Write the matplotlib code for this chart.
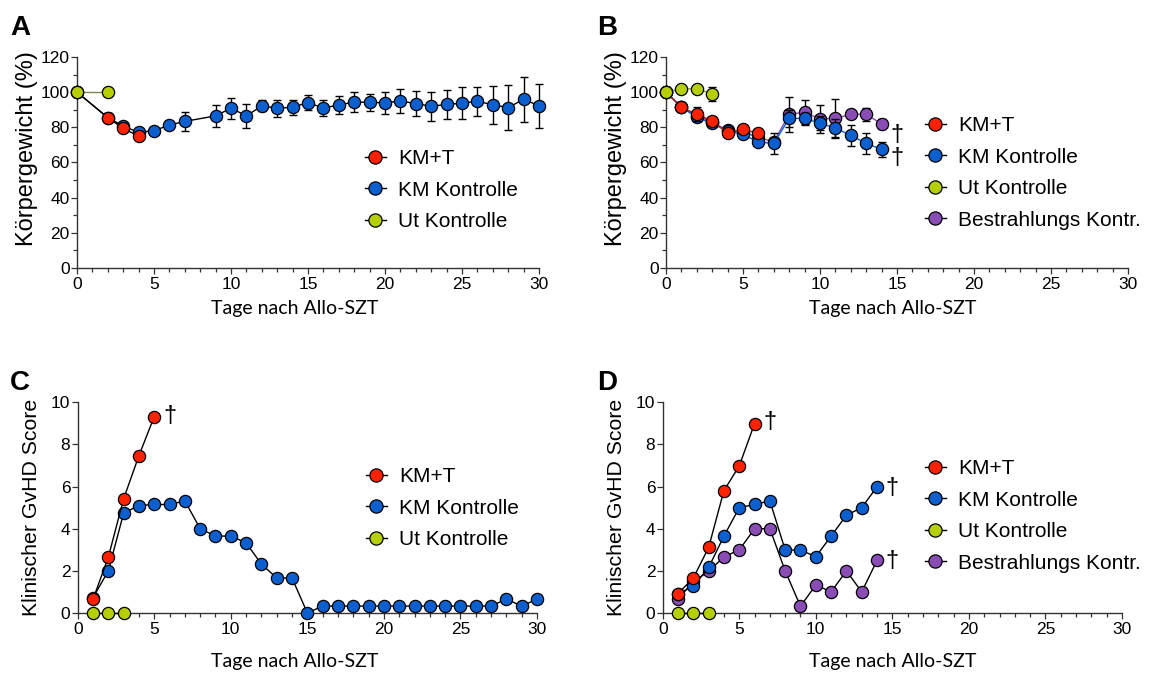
import matplotlib
matplotlib.use("Agg")
import matplotlib.pyplot as plt
from matplotlib.lines import Line2D

# ---------------- data ----------------
labels = ["KM+T", "KM Kontrolle", "Ut Kontrolle", "Bestrahlungs Kontr."]

# Panel A: body weight (%)
a_kmt_days = [0, 2, 3, 4]
a_kmt_vals = [100, 85.5, 79.4, 75.0]
a_kmt_err = [0, 2.5, 1.5, 1.5]

a_km_days = [0, 2, 3, 4, 5, 6, 7, 9, 10, 11, 12, 13, 14, 15, 16, 17, 18, 19,
             20, 21, 22, 23, 24, 25, 26, 27, 28, 29, 30]
a_km_vals = [100, 85.5, 80.8, 77.1, 78.1, 81.3, 83.4, 86.5, 90.9, 86.5, 92.2,
             90.9, 91.4, 94.1, 90.9, 92.8, 94.3, 94.3, 93.9, 95.0, 93.5, 92.0,
             93.0, 93.7, 94.9, 92.8, 91.2, 96.0, 92.2]
a_km_err = [0, 2.7, 1.2, 1.5, 1.0, 2.3, 5.6, 6.3, 5.9, 6.9, 3.1, 4.8, 4.2, 4.2,
            4.4, 5.1, 5.7, 4.8, 6.2, 6.9, 7.0, 8.2, 8.3, 9.1, 8.3, 10.9, 12.6,
            12.8, 12.6]

a_ut_days = [0, 2]
a_ut_vals = [100, 100]

# Panel B: body weight (%)
b_kmt_days = [0, 1, 2, 3, 4, 5, 6]
b_kmt_vals = [100, 91.4, 87.4, 83.6, 76.6, 78.9, 76.6]
b_kmt_err = [0, 1.5, 4.0, 2.0, 1.5, 2.0, 1.5]

b_km_days = list(range(0, 15))
b_km_vals = [100, 91.4, 85.7, 82.3, 77.9, 76.0, 71.6, 70.9, 85.1, 85.1, 82.3,
             79.6, 75.4, 70.9, 67.4]
b_km_err = [0, 1.5, 2.0, 1.5, 1.5, 1.5, 2.0, 6.0, 5.0, 3.0, 4.0, 5.0, 5.8, 6.0,
            4.5]

b_ut_days = [0, 1, 2, 3]
b_ut_vals = [100, 101.9, 101.9, 99.0]
b_ut_err = [0, 1.5, 2.4, 4.0]

b_irr_days = list(range(0, 15))
b_irr_vals = [100, 91.8, 86.5, 83.0, 78.2, 77.5, 74.0, 71.8, 87.4, 88.6, 84.8,
              85.1, 87.4, 87.4, 81.9]
b_irr_err = [0, 1.0, 2.0, 1.5, 1.5, 1.5, 2.0, 2.0, 10.0, 7.0, 8.0, 11.0, 2.0,
             3.8, 3.0]

# Panel C: clinical GvHD score
c_kmt_days = [1, 2, 3, 4, 5]
c_kmt_vals = [0.65, 2.65, 5.42, 7.47, 9.32]

c_km_days = list(range(1, 31))
c_km_vals = [0.73, 2.0, 4.74, 5.1, 5.15, 5.15, 5.32, 4.0, 3.65, 3.65, 3.33,
             2.32, 1.66, 1.66, 0.0, 0.33, 0.33, 0.33, 0.33, 0.33, 0.33, 0.33,
             0.33, 0.33, 0.33, 0.33, 0.33, 0.66, 0.33, 0.66]

c_ut_days = [1, 2, 3]
c_ut_vals = [0, 0, 0]

# Panel D: clinical GvHD score
d_kmt_days = [1, 2, 3, 4, 5, 6]
d_kmt_vals = [0.92, 1.66, 3.11, 5.81, 6.98, 8.99]

d_km_days = list(range(1, 15))
d_km_vals = [0.92, 1.26, 2.16, 3.65, 5.0, 5.15, 5.32, 2.99, 2.99, 2.67, 3.65,
             4.64, 5.0, 5.99]

d_ut_days = [1, 2, 3]
d_ut_vals = [0, 0, 0]

d_irr_days = list(range(1, 15))
d_irr_vals = [0.65, 1.5, 1.97, 2.67, 2.99, 4.0, 4.0, 2.0, 0.32, 1.33, 1.0, 2.0,
              1.0, 2.5]

# ---------------- style ----------------
RED = "#ff2200"
BLUE = "#0b5fcf"
GREEN = "#b5cf00"
PURPLE = "#8a4cb5"
AXC = "#333333"

plt.rcParams["font.family"] = ["Liberation Sans", "DejaVu Sans"]

W, H = 1151, 673
fig = plt.figure(figsize=(W / 100, H / 100), dpi=100)


def px_axes(left, right, top, bottom):
    return fig.add_axes([left / W, 1 - bottom / H, (right - left) / W,
                         (bottom - top) / H])


MS = 8.8


def series(ax, x, y, color, lc, err=None, z=3):
    if err is not None:
        ax.errorbar(x, y, yerr=err, fmt="none", ecolor="black", elinewidth=1.0,
                    capsize=2.6, capthick=1.0, zorder=z - 0.5, clip_on=False)
    ax.plot(x, y, color=lc, lw=1.0, marker="o", ms=MS, mfc=color,
            mec="black", mew=0.9, zorder=z, clip_on=False)


def style_axes(ax, ymax, ymajor, yminor):
    for s in ("top", "right"):
        ax.spines[s].set_visible(False)
    for s in ("left", "bottom"):
        ax.spines[s].set_color(AXC)
        ax.spines[s].set_linewidth(1.0)
    ax.set_xlim(0, 30)
    ax.set_ylim(0, ymax)
    ax.set_xticks(range(0, 31, 5))
    ax.set_xticks(range(0, 31, 1), minor=True)
    ax.set_yticks(range(0, ymax + 1, ymajor))
    if yminor:
        ax.set_yticks(range(0, ymax + 1, yminor), minor=True)
    ax.tick_params(which="major", length=4.3, width=0.9, color=AXC,
                   labelsize=12.5, pad=2)
    ax.tick_params(axis="y", which="major", pad=1)
    ax.tick_params(which="minor", length=2.6, width=0.9, color=AXC)
    ax.patch.set_alpha(0)


def legend(ax, entries, x, y):
    handles = [Line2D([0], [0], color="black", lw=1.0, marker="o", ms=9.5,
                      mfc=c, mec="black", mew=0.9) for c in entries]
    ax.legend(handles, labels[:len(entries)], loc="center left",
              bbox_to_anchor=(x / W, 1 - y / H), bbox_transform=fig.transFigure,
              frameon=False, fontsize=15, handlelength=1.0, handletextpad=0.6,
              labelspacing=0.6, borderpad=0, borderaxespad=0)


def xlab(ax, cx, cy):
    fig.text(cx / W, 1 - cy / H, "Tage nach Allo-SZT", ha="center",
             va="center", fontsize=14, family=["Lato", "DejaVu Sans"])


def ylab(text, cx, cy, size):
    fig.text(cx / W, 1 - cy / H, text, ha="center", va="center",
             rotation=90, fontsize=size)


def dagger(ax, x, y):
    ax.text(x, y, "\u2020", ha="center", va="center", fontsize=17,
            clip_on=False)


# ---------------- panel A ----------------
axA = px_axes(77, 539, 57, 268)
style_axes(axA, 120, 20, 10)
series(axA, a_km_days, a_km_vals, BLUE, "black", a_km_err, z=3)
series(axA, a_kmt_days, a_kmt_vals, RED, "black", a_kmt_err, z=4)
series(axA, a_ut_days, a_ut_vals, GREEN, "#7d8a55", z=5)
legend(axA, [RED, BLUE, GREEN], 365, 190)
xlab(axA, 295, 309)
ylab("Körpergewicht (%)", 27, 149, 17)

# ---------------- panel B ----------------
axB = px_axes(666, 1128, 57, 268)
style_axes(axB, 120, 20, 10)
series(axB, b_irr_days, b_irr_vals, PURPLE, PURPLE, b_irr_err, z=3)
series(axB, b_km_days, b_km_vals, BLUE, BLUE, b_km_err, z=4)
series(axB, b_kmt_days, b_kmt_vals, RED, "#b01e10", b_kmt_err, z=5)
series(axB, b_ut_days, b_ut_vals, GREEN, "#8f9a3a", b_ut_err, z=6)
dagger(axB, 15.0, 75.5)
dagger(axB, 15.0, 62.5)
legend(axB, [RED, BLUE, GREEN, PURPLE], 925, 173)
xlab(axB, 893, 309)
ylab("Körpergewicht (%)", 616, 149, 17)

# ---------------- panel C ----------------
axC = px_axes(77.7, 537, 402.3, 613)
style_axes(axC, 10, 2, None)
series(axC, c_km_days, c_km_vals, BLUE, "black", z=3)
series(axC, c_kmt_days, c_kmt_vals, RED, "black", z=4)
series(axC, c_ut_days, c_ut_vals, GREEN, "black", z=5)
dagger(axC, 6.0, 9.35)
legend(axC, [RED, BLUE, GREEN], 366, 508)
xlab(axC, 295, 661)
ylab("Klinischer GvHD Score", 32, 507, 15.3)

# ---------------- panel D ----------------
axD = px_axes(662.7, 1122, 402.3, 613)
style_axes(axD, 10, 2, None)
series(axD, d_irr_days, d_irr_vals, PURPLE, "black", z=3)
series(axD, d_km_days, d_km_vals, BLUE, "black", z=4)
series(axD, d_kmt_days, d_kmt_vals, RED, "black", z=5)
series(axD, d_ut_days, d_ut_vals, GREEN, "black", z=6)
dagger(axD, 7.0, 9.05)
dagger(axD, 15.0, 5.95)
dagger(axD, 15.0, 2.45)
legend(axD, [RED, BLUE, GREEN, PURPLE], 925, 516)
xlab(axD, 893, 661)
ylab("Klinischer GvHD Score", 616, 507, 15.3)

# ---------------- panel letters ----------------
for letter, x, y in (("A", 10, 35), ("B", 597, 35), ("C", 10, 390),
                     ("D", 597, 390)):
    fig.text(x / W, 1 - y / H, letter, ha="left", va="baseline",
             fontsize=20, fontweight="bold")

fig.savefig("out.png", dpi=100)
